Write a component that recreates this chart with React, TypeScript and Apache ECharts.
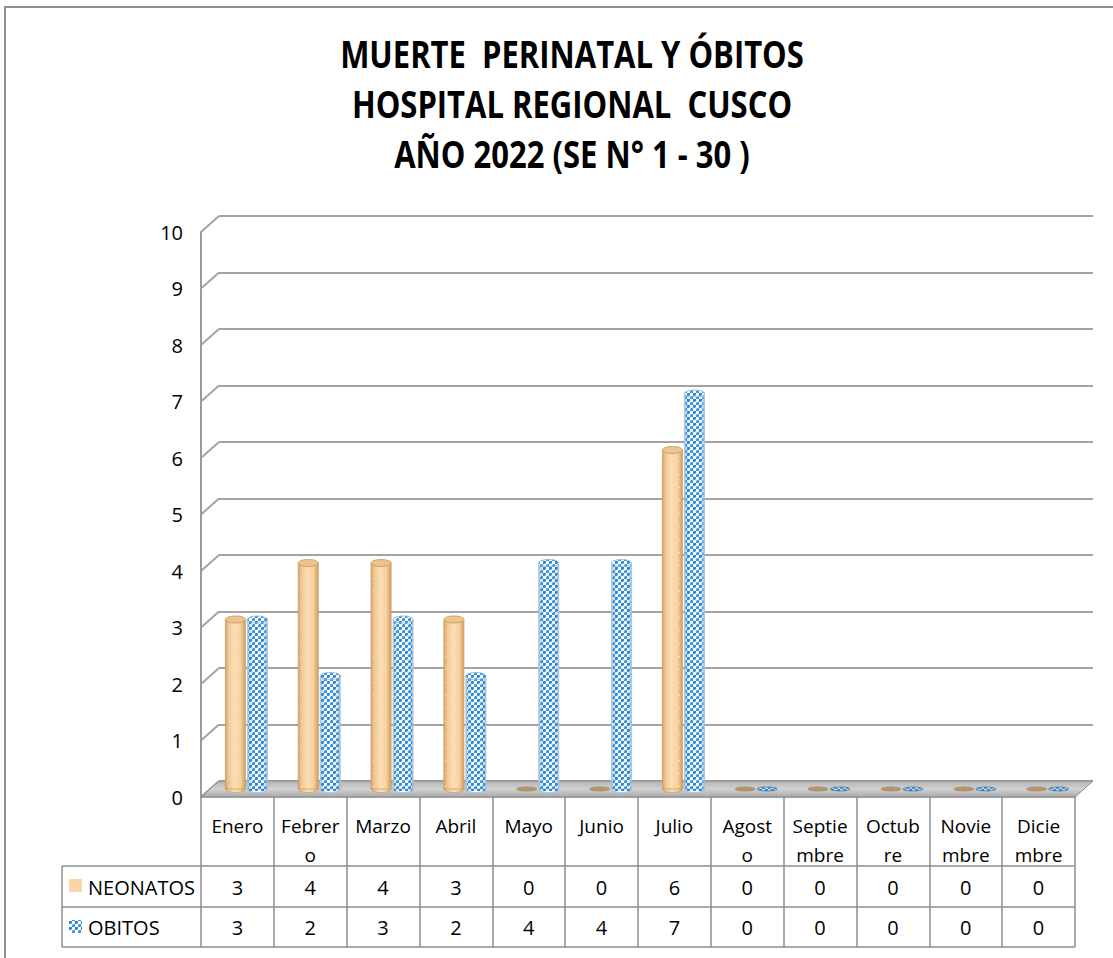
import React, { useEffect, useRef } from "react";
import * as echarts from "echarts";

// ---------- data ----------
const TITLE_LINES = ["MUERTE  PERINATAL Y ÓBITOS", "HOSPITAL REGIONAL  CUSCO", "AÑO 2022 (SE N° 1 - 30 )"];
const MONTHS = ["Enero", "Febrer\no", "Marzo", "Abril", "Mayo", "Junio", "Julio", "Agost\no", "Septie\nmbre", "Octub\nre", "Novie\nmbre", "Dicie\nmbre"];
const SERIES_NAMES = ["NEONATOS", "OBITOS"];
const NEONATOS = [3, 4, 4, 3, 0, 0, 6, 0, 0, 0, 0, 0];
const OBITOS = [3, 2, 3, 2, 4, 4, 7, 0, 0, 0, 0, 0];
const Y_TICKS = [0, 1, 2, 3, 4, 5, 6, 7, 8, 9, 10];

// ---------- layout ----------
const W = 1113;
const H = 958;
const PLOT_LEFT = 201;
const PLOT_TOP = 232;
const PLOT_W = 874;
const PLOT_H = 565;
const DX = 18; // depth offset x
const DY = 16; // depth offset y
const FONT = "Open Sans";
const GRID_COLOR = "#A3A3A3";
const TABLE_COLOR = "#8E8E8E";
const ROW1 = 90; // offset from axis line to row centers
const ROW2 = 130;
const TABLE_LEFT = 62;
const ROW_LINES = [866, 907, 947];

function makeTile(w: number, h: number, bg: string | null, dots: [number, number, number, number, string][]) {
  const c = document.createElement("canvas");
  c.width = w;
  c.height = h;
  const g = c.getContext("2d")!;
  if (bg) {
    g.fillStyle = bg;
    g.fillRect(0, 0, w, h);
  }
  for (const [x, y, dw, dh, col] of dots) {
    g.fillStyle = col;
    g.fillRect(x, y, dw, dh);
  }
  return { image: c, repeat: "repeat", imageWidth: w, imageHeight: h } as any;
}

export default function App() {
  const ref = useRef<HTMLDivElement>(null);

  useEffect(() => {
    if (!ref.current) return;
    const chart = echarts.init(ref.current, null, { renderer: "svg" });

    const dotSpec: [number, number, number, number, string][] = [
      [0, 0, 3, 3, "#3F97DB"],
      [3, 3, 3, 3, "#2C8AD6"],
      [0, 0, 1, 1, "rgba(255,255,255,0.6)"],
      [5, 5, 1, 1, "rgba(255,255,255,0.6)"],
    ];
    const blueDots = makeTile(6, 6, null, dotSpec);
    const blueDotsBg = makeTile(6, 6, "#FFFFFF", dotSpec);
    const peachDots = makeTile(9, 13, null, [[4, 6, 1, 1, "rgba(255,255,255,0.8)"]]);

    const cylRender = (kind: "neo" | "obi") => (params: any, api: any) => {
      const i = api.value(0) as number;
      const v = api.value(1) as number;
      const band = api.size([1, 0])[0];
      const base = api.coord([i, 0]);
      const top = api.coord([i, v]);
      const off = (kind === "neo" ? -1 : 1) * band * 0.151;
      const w = band * 0.275;
      const cx = base[0] + off;
      const rx = w / 2;
      const ry = 3.5;
      if (v === 0) {
        return {
          type: "ellipse",
          shape: { cx, cy: base[1], rx, ry: 2 },
          style: {
            fill: kind === "neo" ? "#B3966F" : blueDots,
            stroke: kind === "neo" ? "#A88B65" : "#3F7FB0",
            lineWidth: 0.8,
          },
        };
      }
      const bodyGrad =
        kind === "neo"
          ? new echarts.graphic.LinearGradient(0, 0, 1, 0, [
              { offset: 0, color: "#D6A468" },
              { offset: 0.18, color: "#F3CA95" },
              { offset: 0.45, color: "#FCDDB4" },
              { offset: 0.75, color: "#F8D2A1" },
              { offset: 1, color: "#D29D60" },
            ])
          : new echarts.graphic.LinearGradient(0, 0, 1, 0, [
              { offset: 0, color: "#B7C9DA" },
              { offset: 0.25, color: "#F3F7FB" },
              { offset: 0.5, color: "#FFFFFF" },
              { offset: 0.8, color: "#EDF3F8" },
              { offset: 1, color: "#AEC2D5" },
            ]);
      const children: any[] = [
        {
          type: "ellipse",
          shape: { cx, cy: base[1], rx, ry },
          style: { fill: bodyGrad, stroke: kind === "neo" ? "#C9A06C" : "#9DBEDB", lineWidth: 0.8 },
        },
        {
          type: "rect",
          shape: { x: cx - rx, y: top[1], width: w, height: base[1] - top[1] },
          style: { fill: bodyGrad, stroke: kind === "neo" ? "#C9A06C" : "#9DBEDB", lineWidth: 0.8 },
        },
        {
          type: "rect",
          shape: { x: cx - rx + 1, y: top[1], width: w - 2, height: base[1] - top[1] + 2 },
          style: { fill: kind === "neo" ? peachDots : blueDots },
        },
        {
          type: "ellipse",
          shape: { cx, cy: top[1], rx, ry },
          style: {
            fill: kind === "neo" ? "#EEC38C" : blueDotsBg,
            stroke: kind === "neo" ? "#C69D68" : "#8DB6D8",
            lineWidth: 0.9,
          },
        },
      ];
      return { type: "group", children };
    };

    const tableText = (rowOff: number) => (params: any, api: any) => {
      const i = api.value(0) as number;
      const v = api.value(1) as number;
      const p = api.coord([i, 0]);
      return {
        type: "text",
        x: p[0],
        y: p[1] + rowOff,
        style: { text: String(v), textAlign: "center", textVerticalAlign: "middle", fontSize: 20, fontFamily: FONT, fill: "#000" },
      };
    };

    const option: any = {
      animation: false,
      backgroundColor: "#FFFFFF",
      textStyle: { fontFamily: FONT },
      grid: [
        { left: PLOT_LEFT + DX, top: PLOT_TOP - DY, width: PLOT_W, height: PLOT_H, outerBoundsMode: "none" },
        { left: PLOT_LEFT + DX / 2, top: PLOT_TOP - DY / 2, width: PLOT_W, height: PLOT_H, outerBoundsMode: "none" },
        { left: PLOT_LEFT, top: PLOT_TOP, width: PLOT_W, height: PLOT_H, outerBoundsMode: "none" },
      ],
      xAxis: [
        { gridIndex: 0, type: "value", min: 0, max: 1, show: false },
        { gridIndex: 1, type: "category", data: MONTHS, show: false },
        {
          gridIndex: 2,
          type: "category",
          data: MONTHS,
          axisLine: { show: true, lineStyle: { color: "#9A9A9A", width: 1.5 } },
          axisTick: { show: true, interval: 0, length: ROW_LINES[2] - (PLOT_TOP + PLOT_H), lineStyle: { color: TABLE_COLOR, width: 1.5 } },
          axisLabel: { interval: 0, fontSize: 19, lineHeight: 29, margin: 14, color: "#000", fontFamily: FONT },
          splitLine: { show: false },
        },
      ],
      yAxis: [
        {
          gridIndex: 0,
          type: "value",
          min: 0,
          max: 10,
          interval: 1,
          axisLine: { show: false },
          axisTick: { show: false },
          axisLabel: { show: false },
          splitLine: { show: true, lineStyle: { color: GRID_COLOR, width: 2 } },
        },
        { gridIndex: 1, type: "value", min: 0, max: 10, interval: 1, show: false },
        {
          gridIndex: 2,
          type: "value",
          min: 0,
          max: 10,
          interval: 1,
          axisLine: { show: true, lineStyle: { color: "#9A9A9A", width: 2 } },
          axisTick: { show: false },
          axisLabel: { fontSize: 20, color: "#000", margin: 18, fontFamily: FONT },
          splitLine: { show: false },
        },
      ],
      series: [
        {
          type: "custom",
          name: "connectors",
          xAxisIndex: 0,
          yAxisIndex: 0,
          z: 1,
          data: Y_TICKS.map((v) => [0, v]),
          renderItem: (params: any, api: any) => {
            const p = api.coord([0, api.value(1)]);
            return {
              type: "line",
              shape: { x1: p[0], y1: p[1], x2: p[0] - DX, y2: p[1] + DY },
              style: { stroke: GRID_COLOR, lineWidth: 2 },
            };
          },
        },
        {
          type: "custom",
          name: "floor",
          xAxisIndex: 1,
          yAxisIndex: 1,
          z: 2,
          data: [[0, 0]],
          renderItem: (params: any, api: any) => {
            const band = api.size([1, 0])[0];
            const c0 = api.coord([0, 0]);
            const cN = api.coord([MONTHS.length - 1, 0]);
            const left = c0[0] - band / 2;
            const right = cN[0] + band / 2;
            const y = c0[1];
            return {
              type: "polygon",
              shape: {
                points: [
                  [left - DX / 2, y + DY / 2],
                  [right - DX / 2, y + DY / 2],
                  [right + DX / 2, y - DY / 2],
                  [left + DX / 2, y - DY / 2],
                ],
              },
              style: {
                fill: new echarts.graphic.LinearGradient(0, 0, 0, 1, [
                  { offset: 0, color: "#B4B4B4" },
                  { offset: 0.5, color: "#D2D2D2" },
                  { offset: 1, color: "#A9A9A9" },
                ]),
                stroke: "#8C8C8C",
                lineWidth: 1,
              },
            };
          },
        },
        {
          type: "custom",
          name: SERIES_NAMES[0],
          xAxisIndex: 1,
          yAxisIndex: 1,
          z: 3,
          data: NEONATOS.map((v, i) => [i, v]),
          renderItem: cylRender("neo"),
        },
        {
          type: "custom",
          name: SERIES_NAMES[1],
          xAxisIndex: 1,
          yAxisIndex: 1,
          z: 3,
          data: OBITOS.map((v, i) => [i, v]),
          renderItem: cylRender("obi"),
        },
        {
          type: "custom",
          name: "tabla " + SERIES_NAMES[0],
          xAxisIndex: 2,
          yAxisIndex: 2,
          z: 4,
          data: NEONATOS.map((v, i) => [i, v]),
          renderItem: tableText(ROW1),
        },
        {
          type: "custom",
          name: "tabla " + SERIES_NAMES[1],
          xAxisIndex: 2,
          yAxisIndex: 2,
          z: 4,
          data: OBITOS.map((v, i) => [i, v]),
          renderItem: tableText(ROW2),
        },
      ],
      graphic: [
        {
          type: "rect",
          z: 0,
          shape: { x: 5, y: 7, width: W + 20, height: H + 20 },
          style: { fill: "none", stroke: "#8E8E8E", lineWidth: 2 },
        },
        ...TITLE_LINES.map((t, k) => ({
          type: "text",
          x: 572,
          y: 53 + k * 50,
          scaleY: 1.2,
          style: {
            text: t,
            textAlign: "center",
            textVerticalAlign: "middle",
            fontSize: 31,
            fontWeight: "bold",
            fontFamily: FONT,
            fill: "#000",
          },
        })),
        ...ROW_LINES.map((y) => ({
          type: "line",
          shape: { x1: TABLE_LEFT, y1: y, x2: PLOT_LEFT + PLOT_W, y2: y },
          style: { stroke: TABLE_COLOR, lineWidth: 1.5 },
        })),
        {
          type: "line",
          shape: { x1: TABLE_LEFT, y1: ROW_LINES[0], x2: TABLE_LEFT, y2: ROW_LINES[2] },
          style: { stroke: TABLE_COLOR, lineWidth: 1.5 },
        },
        {
          type: "rect",
          shape: { x: 69, y: 879, width: 13, height: 13 },
          style: { fill: "#FBD5A6" },
        },
        {
          type: "rect",
          shape: { x: 69, y: 920, width: 13, height: 13 },
          style: { fill: blueDotsBg },
        },
        {
          type: "text",
          x: 88,
          y: PLOT_TOP + PLOT_H + ROW1,
          style: { text: SERIES_NAMES[0], textVerticalAlign: "middle", fontSize: 20, fontFamily: FONT, fill: "#000" },
        },
        {
          type: "text",
          x: 88,
          y: PLOT_TOP + PLOT_H + ROW2,
          style: { text: SERIES_NAMES[1], textVerticalAlign: "middle", fontSize: 20, fontFamily: FONT, fill: "#000" },
        },
      ],
    };

    chart.setOption(option);
    return () => chart.dispose();
  }, []);

  return (
    <div
      ref={ref}
      style={{ position: "absolute", left: 0, top: 0, width: W, height: H, background: "#FFFFFF" }}
    />
  );
}
